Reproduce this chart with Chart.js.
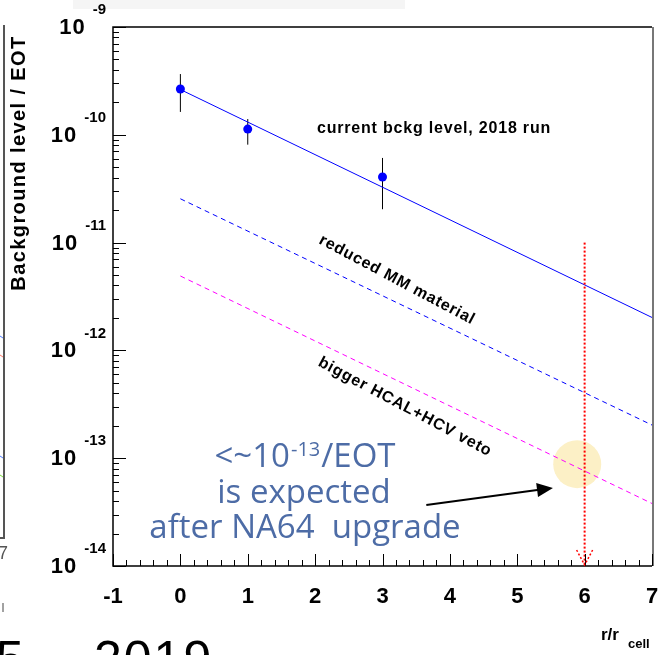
<!DOCTYPE html>
<html>
<head>
<meta charset="utf-8">
<script src="https://cdn.jsdelivr.net/npm/chart.js@4.4.1/dist/chart.umd.min.js"></script>
<style>
  html, body { margin: 0; padding: 0; background: #fff; }
  #wrap { width: 663px; height: 655px; }
</style>
</head>
<body>
<div id="wrap"><canvas id="bkg" width="663" height="655"></canvas></div>
<script>
// measured points, 2018 run
var radius = [0, 1, 3];
var bkgLevel = [2.66e-10, 1.13e-10, 4.06e-11];
var errLow = [1.63e-10, 8.1e-11, 2.04e-11];
var errHigh = [3.66e-10, 1.40e-10, 6.1e-11];

// straight extrapolations (end points only)
var fitX = [0, 7];
var fitCurrent = [2.63e-10, 2.02e-12];
var fitReducedMM = [2.55e-11, 2.03e-13];
var fitBiggerVeto = [4.9e-12, 3.8e-14];

// red dotted marker at r = 6 r_cell
var limitX = [6, 6];
var limitY = [1.0e-11, 1e-14];

var yExponents = [-9, -10, -11, -12, -13, -14];

function pts(xs, ys) {
    return xs.map(function (x, i) { return {x: x, y: ys[i]}; });
}

var boldFont = 'bold {s}px "Liberation Sans", Arial, sans-serif';
function bf(s) { return boldFont.replace('{s}', s); }

var errorBars = {
    id: 'errorBars',
    beforeDatasetsDraw: function (chart) {
        var ctx = chart.ctx, xs = chart.scales.x, ys = chart.scales.y;
        // highlight circle
        ctx.save();
        ctx.fillStyle = '#fcf0c6';
        ctx.beginPath();
        ctx.arc(xs.getPixelForValue(5.89), ys.getPixelForValue(8.8e-14), 24, 0, Math.PI * 2);
        ctx.fill();
        ctx.strokeStyle = '#000';
        ctx.lineWidth = 1;
        for (var i = 0; i < radius.length; i++) {
            var px = xs.getPixelForValue(radius[i]);
            ctx.beginPath();
            ctx.moveTo(px, ys.getPixelForValue(errLow[i]));
            ctx.lineTo(px, ys.getPixelForValue(errHigh[i]));
            ctx.stroke();
        }
        ctx.restore();
    }
};

var frame = {
    id: 'frame',
    afterDraw: function (chart) {
        var ctx = chart.ctx, xs = chart.scales.x, ys = chart.scales.y;
        var a = chart.chartArea;
        ctx.save();

        // bits of the slide around the plot
        ctx.fillStyle = '#f5f5f5';
        ctx.fillRect(73, 0, 332, 9);
        ctx.strokeStyle = '#555';
        ctx.lineWidth = 2;
        ctx.beginPath();
        ctx.moveTo(4, 25); ctx.lineTo(4, 538); ctx.lineTo(0, 538);
        ctx.stroke();
        ctx.lineWidth = 1;
        [[337, '#4f7cff'], [356, '#ff7a6a'], [457, '#4f7cff'], [476, '#7cdc3c']].forEach(function (m) {
            ctx.strokeStyle = m[1];
            ctx.beginPath(); ctx.moveTo(0, m[0] - 1); ctx.lineTo(3, m[0] + 1); ctx.stroke();
        });
        ctx.strokeStyle = '#444';
        ctx.beginPath(); ctx.moveTo(3, 603); ctx.lineTo(3, 612); ctx.stroke();
        ctx.fillStyle = '#555';
        ctx.font = '18px "Liberation Sans", Arial, sans-serif';
        ctx.textAlign = 'left'; ctx.textBaseline = 'middle';
        ctx.fillText('7', -2, 554);
        ctx.fillStyle = '#000';
        ctx.font = '50px "Liberation Sans", Arial, sans-serif';
        ctx.textBaseline = 'alphabetic';
        ctx.fillText('5,', -4, 676);
        ctx.letterSpacing = '2px';
        ctx.fillText('2019', 94, 676);
        ctx.letterSpacing = '0px';

        // frame
        ctx.strokeStyle = '#000';
        ctx.lineWidth = 1.5;
        ctx.beginPath();
        ctx.moveTo(a.right, a.top); ctx.lineTo(a.left, a.top);
        ctx.lineTo(a.left, a.bottom); ctx.lineTo(a.right, a.bottom);
        ctx.stroke();
        ctx.strokeStyle = '#777';
        ctx.lineWidth = 2;
        ctx.beginPath(); ctx.moveTo(a.right + 1, a.top); ctx.lineTo(a.right + 1, a.bottom); ctx.stroke();

        // inside ticks
        ctx.strokeStyle = '#000';
        ctx.lineWidth = 1;
        ctx.beginPath();
        for (var e = -14; e <= -9; e++) {
            var py = Math.round(ys.getPixelForValue(Math.pow(10, e))) + 0.5;
            ctx.moveTo(a.left, py); ctx.lineTo(a.left + 13, py);
            if (e < -9) {
                for (var k = 2; k <= 9; k++) {
                    var pk = Math.round(ys.getPixelForValue(k * Math.pow(10, e))) + 0.5;
                    ctx.moveTo(a.left, pk); ctx.lineTo(a.left + 6, pk);
                }
            }
        }
        for (var j = 0; j <= 40; j++) {
            var v = -1 + j * 0.2;
            var px = Math.round(xs.getPixelForValue(v)) + 0.5;
            var len = (j % 5 === 0) ? 12 : 6;
            ctx.moveTo(px, a.bottom); ctx.lineTo(px, a.bottom - len);
        }
        ctx.stroke();

        // y tick labels 10^n
        ctx.fillStyle = '#000';
        ctx.textBaseline = 'middle';
        ctx.textAlign = 'right';
        yExponents.forEach(function (n) {
            var py = ys.getPixelForValue(Math.pow(10, n));
            ctx.font = bf(15);
            var txt = String(n);
            var w = ctx.measureText(txt).width;
            ctx.fillText(txt, 106, py - 17);
            ctx.font = bf(22);
            ctx.letterSpacing = '1px';
            ctx.fillText('10', 106 - w - 7, py + 1);
            ctx.letterSpacing = '0px';
        });

        // axis titles
        ctx.save();
        ctx.translate(19, 163);
        ctx.rotate(-Math.PI / 2);
        ctx.textAlign = 'center';
        ctx.font = bf(20);
        ctx.letterSpacing = '1.4px';
        ctx.fillText('Background level / EOT', 0, 0);
        ctx.restore();
        ctx.textAlign = 'left';
        ctx.textBaseline = 'alphabetic';
        ctx.font = bf(17);
        ctx.fillText('r/r', 601, 640);
        ctx.font = bf(13);
        ctx.fillText('cell', 628, 648);

        // curve labels
        ctx.font = bf(16);
        ctx.letterSpacing = '0.8px';
        ctx.fillText('current bckg level, 2018 run', 317, 133);
        ctx.textAlign = 'center';
        ctx.textBaseline = 'middle';
        [['reduced MM material', 397, 280], ['bigger HCAL+HCV veto', 405, 407]].forEach(function (t) {
            ctx.save();
            ctx.translate(t[1], t[2]);
            ctx.rotate(28 * Math.PI / 180);
            ctx.fillText(t[0], 0, 0);
            ctx.restore();
        });
        ctx.letterSpacing = '0px';

        // arrowhead of the dotted marker
        ctx.strokeStyle = '#ff0000';
        ctx.lineWidth = 1.5;
        ctx.setLineDash([2, 2]);
        var ax = xs.getPixelForValue(6);
        ctx.beginPath();
        ctx.moveTo(ax - 8, a.bottom - 16); ctx.lineTo(ax, a.bottom - 1);
        ctx.lineTo(ax + 8, a.bottom - 16);
        ctx.stroke();
        ctx.setLineDash([]);

        // arrow to the circle
        var x0 = xs.getPixelForValue(3.65), y0 = ys.getPixelForValue(3.68e-14);
        var x1 = xs.getPixelForValue(5.53), y1 = ys.getPixelForValue(5.3e-14);
        var ang = Math.atan2(y1 - y0, x1 - x0);
        ctx.strokeStyle = '#000';
        ctx.fillStyle = '#000';
        ctx.lineWidth = 2;
        ctx.beginPath();
        ctx.moveTo(x0, y0);
        ctx.lineTo(x1 - 14 * Math.cos(ang), y1 - 14 * Math.sin(ang));
        ctx.stroke();
        ctx.beginPath();
        ctx.moveTo(x1, y1);
        ctx.lineTo(x1 - 16 * Math.cos(ang) + 7 * Math.sin(ang), y1 - 16 * Math.sin(ang) - 7 * Math.cos(ang));
        ctx.lineTo(x1 - 16 * Math.cos(ang) - 7 * Math.sin(ang), y1 - 16 * Math.sin(ang) + 7 * Math.cos(ang));
        ctx.closePath();
        ctx.fill();

        // expectation text
        var blue = '#4d6ca6';
        var big = '33px "Open Sans", "Noto Sans", sans-serif';
        var small = '20px "Open Sans", "Noto Sans", sans-serif';
        ctx.fillStyle = blue;
        ctx.textBaseline = 'alphabetic';
        ctx.textAlign = 'left';
        ctx.font = big;
        var w1 = ctx.measureText('<~10').width, w3 = ctx.measureText('/EOT').width;
        ctx.font = small;
        var w2 = ctx.measureText('-13').width;
        var sx = 304 - (w1 + w2 + w3) / 2;
        ctx.font = big;
        ctx.fillText('<~10', sx, 467);
        ctx.font = small;
        ctx.fillText('-13', sx + w1 + 1, 456);
        ctx.font = big;
        ctx.fillText('/EOT', sx + w1 + w2 + 2, 467);
        ctx.textAlign = 'center';
        ctx.fillText('is expected', 304, 503);
        ctx.fillText('after NA64  upgrade', 305, 538);

        ctx.restore();
    }
};

var chart = new Chart(document.getElementById('bkg'), {
    type: 'scatter',
    data: {
        datasets: [
            {
                label: 'current bckg level, 2018 run',
                data: pts(radius, bkgLevel),
                showLine: false,
                pointRadius: 4.5,
                pointBackgroundColor: '#0000ff',
                pointBorderWidth: 0
            },
            {
                label: 'marker',
                data: pts(limitX, limitY),
                showLine: true,
                borderColor: '#ff0000',
                borderWidth: 2,
                borderDash: [2, 2],
                pointRadius: 0
            },
            {
                label: 'current fit',
                data: pts(fitX, fitCurrent),
                showLine: true,
                borderColor: '#0000ff',
                borderWidth: 1,
                pointRadius: 0
            },
            {
                label: 'reduced MM material',
                data: pts(fitX, fitReducedMM),
                showLine: true,
                borderColor: '#0000ff',
                borderWidth: 1,
                borderDash: [5, 4],
                pointRadius: 0
            },
            {
                label: 'bigger HCAL+HCV veto',
                data: pts(fitX, fitBiggerVeto),
                showLine: true,
                borderColor: '#ff00ff',
                borderWidth: 1,
                borderDash: [5, 4],
                pointRadius: 0
            }
        ]
    },
    options: {
        responsive: false,
        maintainAspectRatio: false,
        animation: false,
        layout: { padding: { left: 0, top: 27, right: 11, bottom: 0 } },
        plugins: { legend: { display: false }, tooltip: { enabled: false } },
        scales: {
            x: {
                type: 'linear',
                min: -1,
                max: 7,
                grid: { display: false, drawTicks: false },
                border: { display: false },
                ticks: {
                    stepSize: 1,
                    autoSkip: false,
                    maxRotation: 0,
                    padding: 18,
                    color: '#000',
                    font: { family: '"Liberation Sans", Arial, sans-serif', size: 22, weight: 'bold' }
                },
                afterFit: function (s) {
                    s.height = 89;
                    s.paddingLeft = 0;
                    s.paddingRight = 0;
                }
            },
            y: {
                type: 'logarithmic',
                min: 1e-14,
                max: 1e-9,
                grid: { display: false, drawTicks: false },
                border: { display: false },
                ticks: { display: false },
                afterFit: function (s) { s.width = 113; }
            }
        }
    },
    plugins: [errorBars, frame]
});
</script>
</body>
</html>
